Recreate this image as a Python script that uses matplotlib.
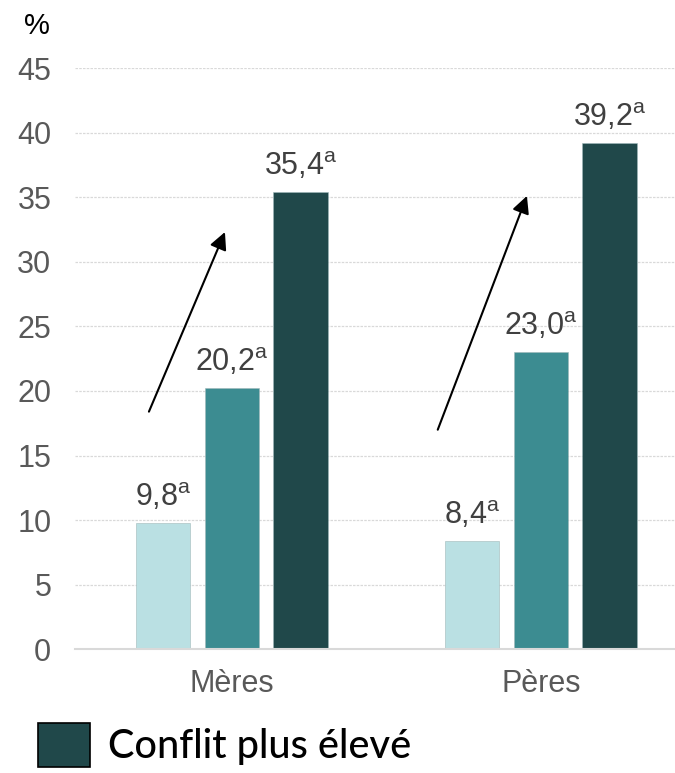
import matplotlib
matplotlib.use("Agg")
import matplotlib.pyplot as plt
import numpy as np

plt.rcParams['font.family'] = ['Liberation Sans', 'DejaVu Sans']
plt.rcParams['mathtext.fontset'] = 'custom'
plt.rcParams['mathtext.rm'] = 'Liberation Sans'

# Data
categories = ["Mères", "Pères"]
series_names = ["Conflit faible", "Conflit moyen", "Conflit plus élevé"]
values_low = [9.8, 8.4]
values_mid = [20.2, 23.0]
values_high = [35.4, 39.2]
value_labels_low = ["9,8", "8,4"]
value_labels_mid = ["20,2", "23,0"]
value_labels_high = ["35,4", "39,2"]
colors = ["#BAE0E3", "#3C8C91", "#20484A"]
yticks = [0, 5, 10, 15, 20, 25, 30, 35, 40, 45]

fig = plt.figure(figsize=(6.75, 7.73), dpi=100)
ax = fig.add_axes([0.111, 0.160, 0.889, 0.752])

x = np.arange(len(categories))
width = 0.175
step = 0.222
all_vals = [values_low, values_mid, values_high]
all_labels = [value_labels_low, value_labels_mid, value_labels_high]
bars = []
for i, (vals, labs) in enumerate(zip(all_vals, all_labels)):
    b = ax.bar(x + (i - 1) * step, vals, width, color=colors[i],
               edgecolor="#9fb8ba", linewidth=0.4, label=series_names[i], zorder=3)
    bars.append(b)
    for xi, v, lab in zip(x + (i - 1) * step, vals, labs):
        ax.annotate(lab + r"$^{\mathrm{a}}$", (xi, v), xytext=(0, 10),
                    textcoords="offset pixels", ha="center", va="bottom",
                    fontsize=22, color="#404040")

# trend arrows
ax.annotate("", xy=(-0.019, 32.5), xytext=(-0.272, 18.2),
            arrowprops=dict(arrowstyle="-|>", color="black", lw=1.5, mutation_scale=26))
ax.annotate("", xy=(0.958, 35.3), xytext=(0.663, 16.8),
            arrowprops=dict(arrowstyle="-|>", color="black", lw=1.5, mutation_scale=26))

ax.set_xlim(-0.508, 1.434)
ax.set_ylim(0, 45)
ax.set_yticks(yticks)
ax.set_xticks(x)
ax.set_xticklabels(categories)
ax.tick_params(axis="y", length=0, pad=17, labelsize=22, labelcolor="#595959")
ax.tick_params(axis="x", length=0, pad=14, labelsize=22, labelcolor="#595959")
ax.yaxis.grid(True, linestyle=(0, (2, 1)), color="#D9D9D9", linewidth=0.9, zorder=0)
for s in ["top", "right", "left"]:
    ax.spines[s].set_visible(False)
ax.spines["bottom"].set_color("#D9D9D9")
ax.spines["bottom"].set_linewidth(1.5)
ax.spines["bottom"].set_zorder(4)

fig.text(0.035, 0.966, "%", fontsize=21, color="black", ha="left", va="center")

leg = fig.legend(handles=[bars[2]], labels=[series_names[2]], loc="upper left",
                 bbox_to_anchor=(0.057, 0.065), frameon=False,
                 handlelength=1.3, handleheight=1.35, handletextpad=0.45,
                 borderpad=0, borderaxespad=0,
                 prop={"family": ["Lato", "DejaVu Sans"], "size": 28.5, "weight": "medium"})
for h in leg.legend_handles:
    h.set_edgecolor("black")
    h.set_linewidth(1.2)

fig.savefig("out.png", dpi=100)
